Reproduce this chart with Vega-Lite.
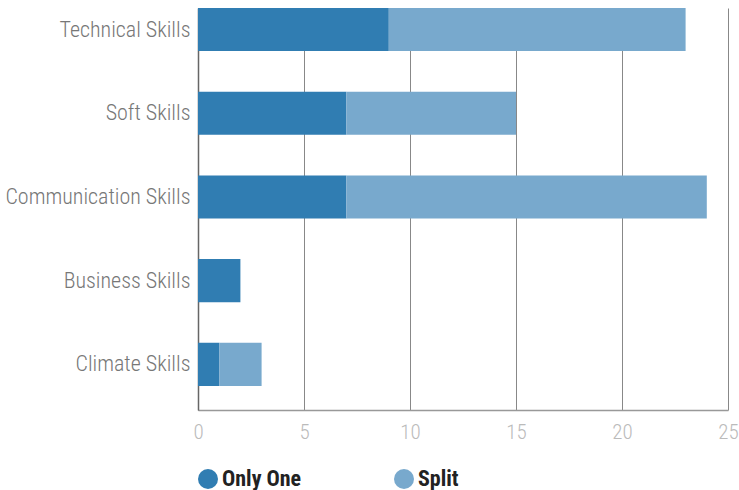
{
  "$schema": "https://vega.github.io/schema/vega-lite/v6.json",
  "width": 530,
  "height": 402,
  "autosize": {"type": "none"},
  "padding": {"left": 198, "top": 8, "right": 11, "bottom": 80},
  "background": "white",
  "config": {
    "view": {"stroke": null},
    "font": "Roboto Condensed, Liberation Sans Narrow, DejaVu Sans Condensed, sans-serif"
  },
  "data": {
    "values": [
      {"skill": "Technical Skills", "type": "Only One", "count": 9},
      {"skill": "Technical Skills", "type": "Split", "count": 14},
      {"skill": "Soft Skills", "type": "Only One", "count": 7},
      {"skill": "Soft Skills", "type": "Split", "count": 8},
      {"skill": "Communication Skills", "type": "Only One", "count": 7},
      {"skill": "Communication Skills", "type": "Split", "count": 17},
      {"skill": "Business Skills", "type": "Only One", "count": 2},
      {"skill": "Business Skills", "type": "Split", "count": 0},
      {"skill": "Climate Skills", "type": "Only One", "count": 1},
      {"skill": "Climate Skills", "type": "Split", "count": 2}
    ]
  },
  "mark": {"type": "bar"},
  "encoding": {
    "y": {
      "field": "skill",
      "type": "nominal",
      "sort": ["Technical Skills", "Soft Skills", "Communication Skills", "Business Skills", "Climate Skills"],
      "scale": {"paddingInner": 0.485, "paddingOuter": 0.144, "align": 0},
      "axis": {
        "title": null,
        "ticks": false,
        "domainColor": "#666",
        "domainWidth": 1.5,
        "labelFontSize": 22,
        "labelFontWeight": 300,
        "labelColor": "#777",
        "labelPadding": 8,
        "labelLimit": 300
      }
    },
    "x": {
      "field": "count",
      "type": "quantitative",
      "stack": "zero",
      "scale": {"domain": [0, 25], "nice": false},
      "axis": {
        "title": null,
        "values": [0, 5, 10, 15, 20, 25],
        "ticks": false,
        "grid": true,
        "gridColor": "#888",
        "gridWidth": 1,
        "domainColor": "#999",
        "domainWidth": 1.5,
        "labelFontSize": 21,
        "labelFontWeight": 300,
        "labelColor": "#bbb",
        "labelPadding": 11,
        "labelFlush": false
      }
    },
    "color": {
      "field": "type",
      "type": "nominal",
      "scale": {"domain": ["Only One", "Split"], "range": ["#307db2", "#78a9cd"]},
      "legend": {
        "title": null,
        "orient": "none",
        "direction": "horizontal",
        "legendX": -1,
        "legendY": 460,
        "symbolType": "circle",
        "symbolSize": 400,
        "symbolStrokeWidth": 0,
        "symbolOpacity": 1,
        "labelFontSize": 22,
        "labelFontWeight": "bold",
        "labelColor": "#222",
        "labelOffset": 3,
        "columnPadding": 91
      }
    },
    "order": {"field": "type", "sort": "ascending"}
  }
}
